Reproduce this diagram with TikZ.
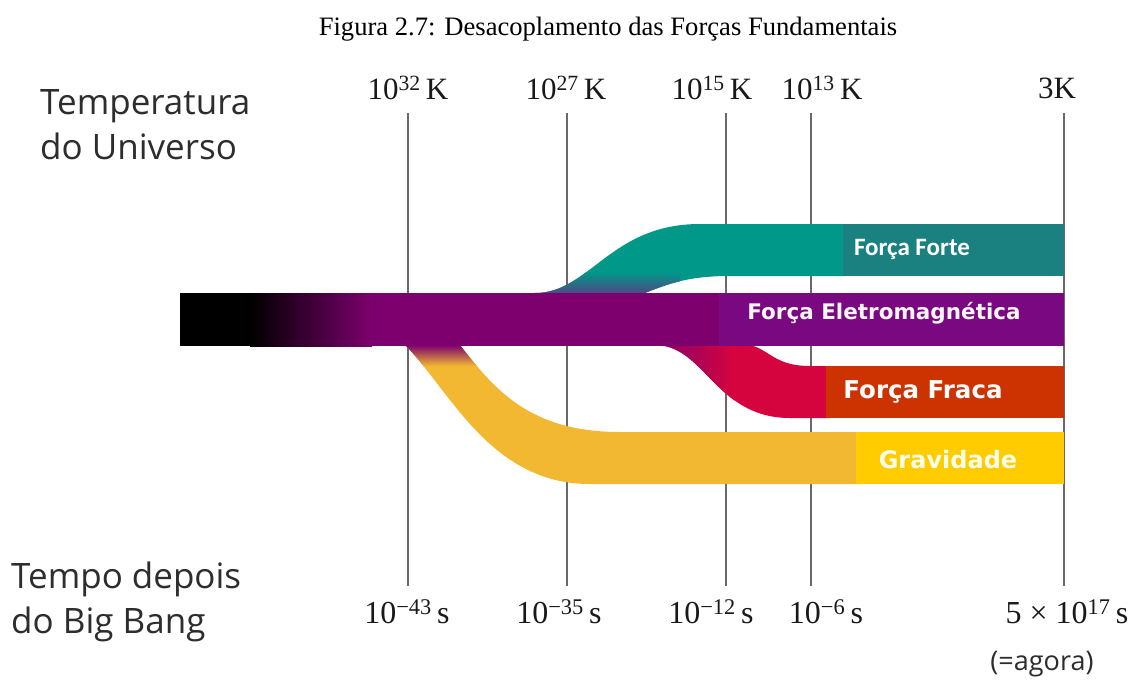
\documentclass[tikz,border=0pt]{standalone}
\usepackage{fontspec}
\setmainfont{Liberation Serif}
\newfontfamily\axisans{Open Sans}
\newfontfamily\bandcal{Carlito}
\newfontfamily\bandwide{DejaVu Sans}

\definecolor{emband}{RGB}{125,0,110}
\definecolor{embox}{RGB}{122,8,128}
\definecolor{strongband}{RGB}{0,152,136}
\definecolor{strongbox}{RGB}{26,128,128}
\definecolor{weakband}{RGB}{214,4,62}
\definecolor{weakbox}{RGB}{204,51,0}
\definecolor{gravband}{RGB}{242,184,50}
\definecolor{gravbox}{RGB}{255,204,0}
\definecolor{gridgrey}{RGB}{105,105,105}
\definecolor{textgrey}{RGB}{45,45,45}
\definecolor{junction}{RGB}{80,70,135}

\tikzset{
  epochline/.style={draw=gridgrey, line width=2pt},
  tempnum/.style={font=\fontsize{31}{34}\selectfont, text=black!90, inner sep=0pt},
  timenum/.style={font=\fontsize{32}{35}\selectfont, text=black!90, inner sep=0pt},
  sidelabel/.style={font=\axisans\fontsize{35}{45}\selectfont, text=textgrey, align=left, inner sep=0pt, anchor=west},
  bandtext/.style={text=white, inner sep=0pt},
}

\begin{document}
\begin{tikzpicture}[x=1pt,y=-1pt]
\useasboundingbox (0,0) rectangle (1143,683);
\fill[white] (0,0) rectangle (1143,683);

% caption
\node[font=\fontsize{26.6}{30}\selectfont, inner sep=0pt] (caption) at (608,29)
  {Figura 2.7: Desacoplamento das Forças Fundamentais};

% axis headings
\node[sidelabel] (temphead) at (40,125) {Temperatura\\do Universo};
\node[sidelabel] (timehead) at (11,602) {Tempo depois\\do Big Bang};

% epoch end points
\coordinate (t1) at (408,113); \coordinate (b1) at (408,586);
\coordinate (t2) at (567,113); \coordinate (b2) at (567,586);
\coordinate (t3) at (726,113); \coordinate (b3) at (726,586);
\coordinate (t4) at (811,113); \coordinate (b4) at (811,586);
\coordinate (t5) at (1064,113); \coordinate (b5) at (1064,586);

% temperatures
\node[tempnum] (k1) at (408,88) {10\textsuperscript{32}\,K};
\node[tempnum] (k2) at (566,88) {10\textsuperscript{27}\,K};
\node[tempnum] (k3) at (712,88) {10\textsuperscript{15}\,K};
\node[tempnum] (k4) at (822,88) {10\textsuperscript{13}\,K};
\node[tempnum] (k5) at (1057,88) {3K};

% times
\node[timenum] (s1) at (407,612) {10\textsuperscript{−43}\,s};
\node[timenum] (s2) at (559,612) {10\textsuperscript{−35}\,s};
\node[timenum] (s3) at (711,612) {10\textsuperscript{−12}\,s};
\node[timenum] (s4) at (826,612) {10\textsuperscript{−6}\,s};
\node[timenum] (s5) at (1067,612) {5 × 10\textsuperscript{17}\,s};
\node[font=\axisans\fontsize{27}{30}\selectfont, text=textgrey, inner sep=0pt] (now) at (1042,664) {(=agora)};

% epoch lines
\foreach \i in {1,...,5} \draw[epochline] (t\i) -- (b\i);

% gravity branch
\begin{scope}
  \clip (405,330) -- (405,345) .. controls (450,390) and (490,484) .. (590,484)
        -- (860,484) -- (860,432) -- (620,432) .. controls (530,432) and (495,390) .. (460,345)
        -- (460,330) -- cycle;
  \fill[gravband] (390,330) rectangle (870,490);
  \shade[top color=emband, bottom color=gravband] (390,345) rectangle (490,366);
\end{scope}

% weak branch
\begin{scope}
  \clip (650,330) -- (655,345) .. controls (705,345) and (715,418) .. (790,418)
        -- (830,418) -- (830,366) -- (810,366) .. controls (775,366) and (770,350) .. (750,345)
        -- (750,330) -- cycle;
  \fill[weakband] (640,330) rectangle (840,420);
  \shade[left color=emband, right color=weakband] (650,330) rectangle (735,420);
\end{scope}

% strong branch
\begin{scope}
  \clip (535,305) -- (535,293) .. controls (590,293) and (610,224) .. (700,224)
        -- (846,224) -- (846,276) -- (730,276) .. controls (690,276) and (670,283) .. (645,293)
        -- (645,305) -- cycle;
  \fill[strongband] (520,220) rectangle (850,310);
  \shade[top color=strongband, bottom color=junction] (520,272) rectangle (680,294);
\end{scope}

% electromagnetic trunk
\fill[black] (180,293) rectangle (252,346);
\shade[left color=black, right color=emband] (250,293) rectangle (372,346);
\fill[emband] (370,293) rectangle (1064,346);

% label boxes
\fill[strongbox] (843,224) rectangle (1064,276);
\fill[embox] (719,293) rectangle (1064,346);
\fill[weakbox] (826,366) rectangle (1064,418);
\fill[gravbox] (856,432) rectangle (1064,484);

\node[bandtext, font=\bandcal\bfseries\fontsize{25}{28}\selectfont] (strong) at (912,249) {Força Forte};
\node[bandtext, font=\bandwide\bfseries\fontsize{21.5}{25}\selectfont, text=white!96!black] (em) at (884,313) {Força Eletromagnética};
\node[bandtext, font=\bandwide\bfseries\fontsize{24.5}{28}\selectfont] (weak) at (923,392) {Força Fraca};
\node[bandtext, font=\bandwide\bfseries\fontsize{24}{27}\selectfont, text=white!92!yellow] (grav) at (948,460) {Gravidade};
\end{tikzpicture}
\end{document}
